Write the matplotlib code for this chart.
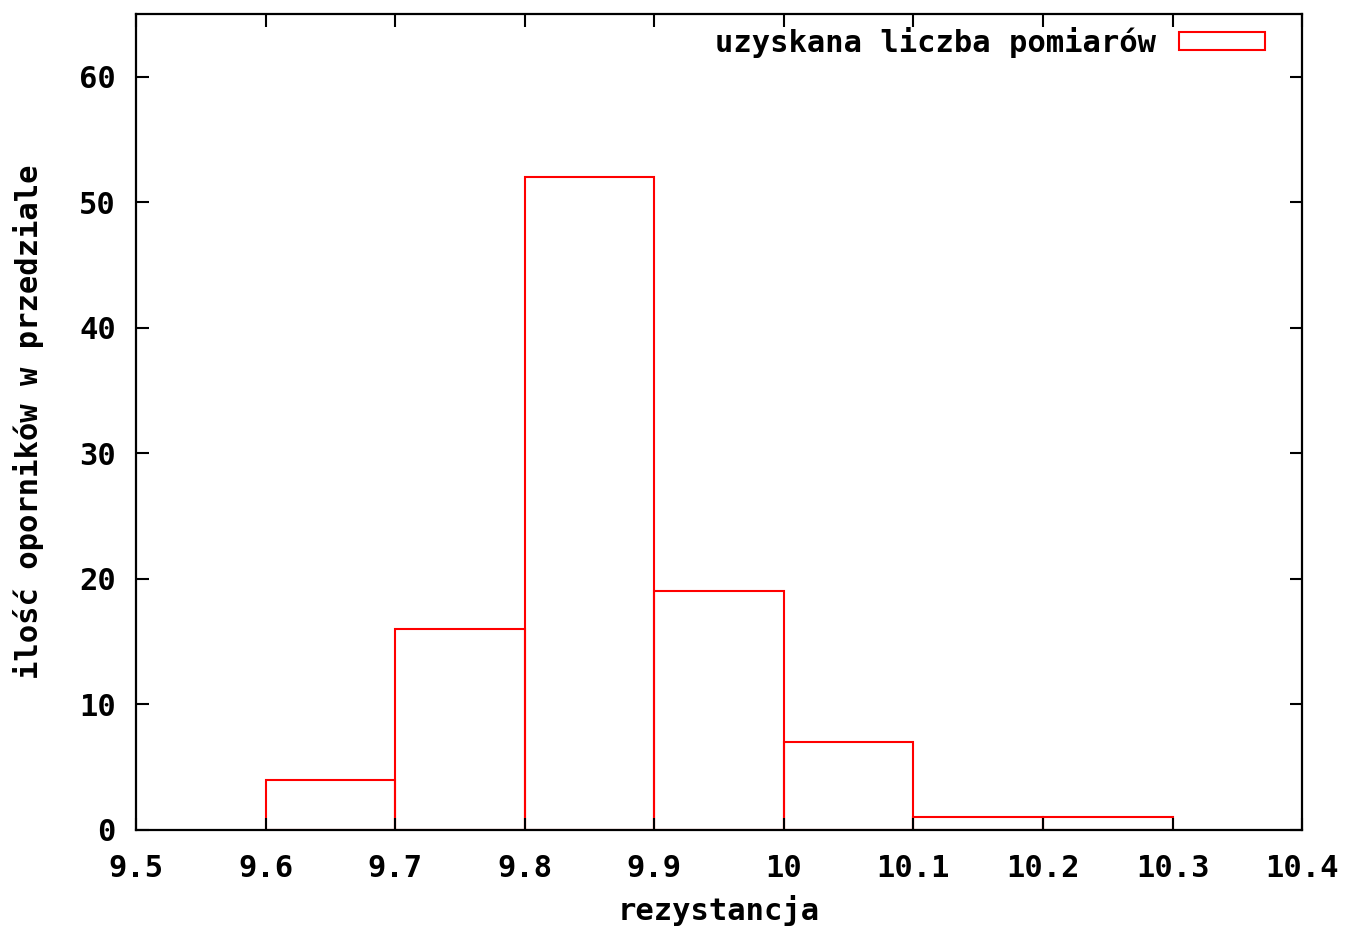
import matplotlib
matplotlib.use("Agg")
import matplotlib.pyplot as plt
from matplotlib.patches import Patch

bin_left = [9.6, 9.7, 9.8, 9.9, 10.0, 10.1, 10.2]
counts = [4, 16, 52, 19, 7, 1, 1]
bin_width = 0.1
xticks = [9.5, 9.6, 9.7, 9.8, 9.9, 10.0, 10.1, 10.2, 10.3, 10.4]
xticklabels = ["9.5", "9.6", "9.7", "9.8", "9.9", "10", "10.1", "10.2", "10.3", "10.4"]
yticks = [0, 10, 20, 30, 40, 50, 60]

plt.rcParams['font.family'] = ['DejaVu Sans Mono']
plt.rcParams['font.weight'] = 'bold'

FS = 22

fig = plt.figure(figsize=(13.63, 9.33), dpi=100)
ax = fig.add_axes([0.0998, 0.1104, 0.9553 - 0.0998, 0.985 - 0.1104])

ax.bar(bin_left, counts, width=bin_width, align='edge', fill=False,
       edgecolor='#ff0000', linewidth=1.5)

ax.set_xlim(9.5, 10.4)
ax.set_ylim(0, 65)
ax.set_xticks(xticks)
ax.set_xticklabels(xticklabels)
ax.set_yticks(yticks)
ax.tick_params(direction='in', length=9, width=1.5, top=True, right=True,
               labelsize=FS)
ax.tick_params(axis='x', pad=17)
ax.tick_params(axis='y', pad=14.5)
for s in ax.spines.values():
    s.set_linewidth(1.6)

ax.set_xlabel("rezystancja", fontsize=FS, fontweight='bold', labelpad=9)
ax.set_ylabel("ilość oporników w przedziale", fontsize=FS, fontweight='bold', labelpad=25)

h = Patch(facecolor='none', edgecolor='#ff0000', linewidth=1.5)
leg = ax.legend([h], ["uzyskana liczba pomiarów"], loc='upper right', frameon=False,
                markerfirst=False, fontsize=FS, handlelength=2.8, handleheight=0.5,
                borderaxespad=0, borderpad=0, handletextpad=0.75,
                bbox_to_anchor=(0.968, 0.984))

fig.savefig("out.png", dpi=100)
